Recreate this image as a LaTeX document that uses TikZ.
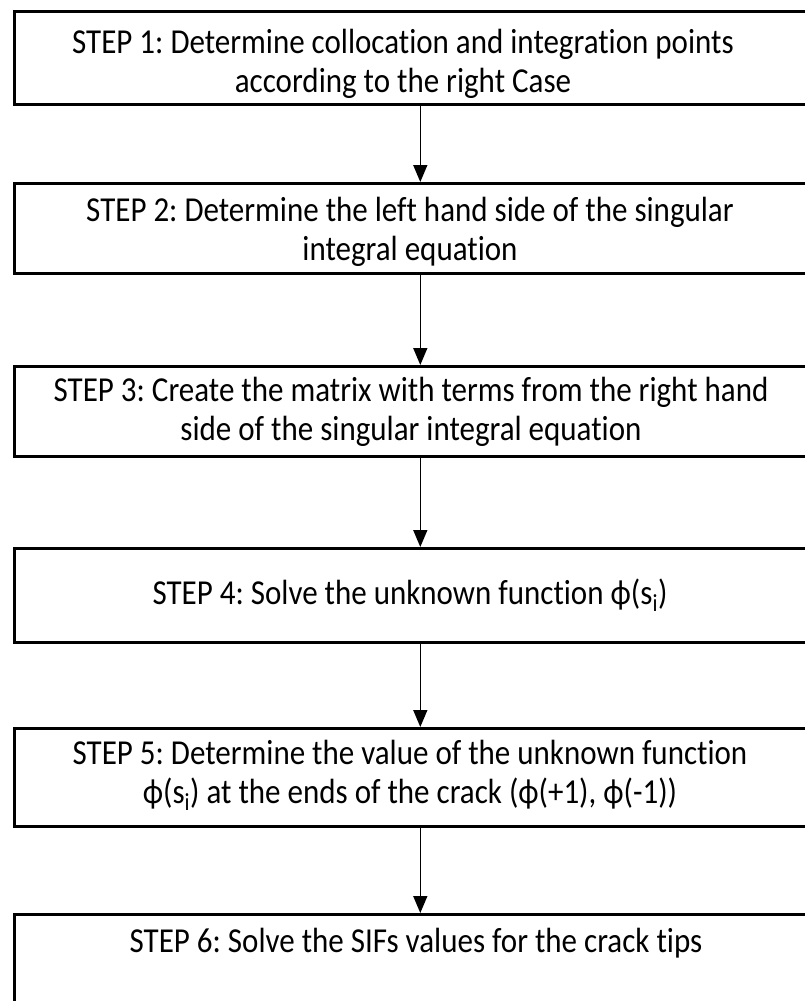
\documentclass[tikz,border=0pt]{standalone}
\usepackage{fontspec}
\setmainfont{Carlito}[Ligatures={NoCommon}]
\usetikzlibrary{arrows.meta}
\newcommand{\tl}[1]{\scalebox{1}[1.13]{#1}}
\begin{document}
\frenchspacing
\begin{tikzpicture}[x=1pt,y=-1pt,
  stepbox/.style={draw, line width=2.6pt, minimum width=812pt, anchor=north west, inner sep=0pt},
  txt/.style={align=center, font=\fontsize{31}{39}\selectfont, inner sep=0pt},
  arr/.style={line width=1.5pt, -{Triangle[length=17pt,width=14pt]}}]
\useasboundingbox (0,0) rectangle (805,1001);
\node[stepbox, minimum height=93pt] (s1) at (13,10) {};
\node[stepbox, minimum height=90pt] (s2) at (13,182) {};
\node[stepbox, minimum height=90pt] (s3) at (13,365) {};
\node[stepbox, minimum height=94pt] (s4) at (13,547) {};
\node[stepbox, minimum height=98pt] (s5) at (13,727) {};
\node[stepbox, minimum height=98pt] (s6) at (13,913) {};
\node[txt] (t1) at (403,64) {\tl{STEP 1: Determine collocation and integration points}\\\tl{according to the right Case}};
\node[txt] (t2) at (410,232) {\tl{STEP 2: Determine the left hand side of the singular}\\\tl{integral equation}};
\node[txt] (t3) at (411,412) {\tl{STEP 3: Create the matrix with terms from the right hand}\\\tl{side of the singular integral equation}};
\node[txt] (t4) at (410,595) {\tl{STEP 4: Solve the unknown function ϕ(s\textsubscript{i})}};
\node[txt] (t5) at (410,775) {\tl{STEP 5: Determine the value of the unknown function}\\\tl{ϕ(s\textsubscript{i}) at the ends of the crack (ϕ(+1), ϕ(-1))}};
\node[txt] (t6) at (416,943) {\tl{STEP 6: Solve the SIFs values for the crack tips}};
\draw[arr] (s1.south) -- (s2.north);
\draw[arr] (s2.south) -- (s3.north);
\draw[arr] (s3.south) -- (s4.north);
\draw[arr] (s4.south) -- (s5.north);
\draw[arr] (s5.south) -- (s6.north);
\end{tikzpicture}
\end{document}
